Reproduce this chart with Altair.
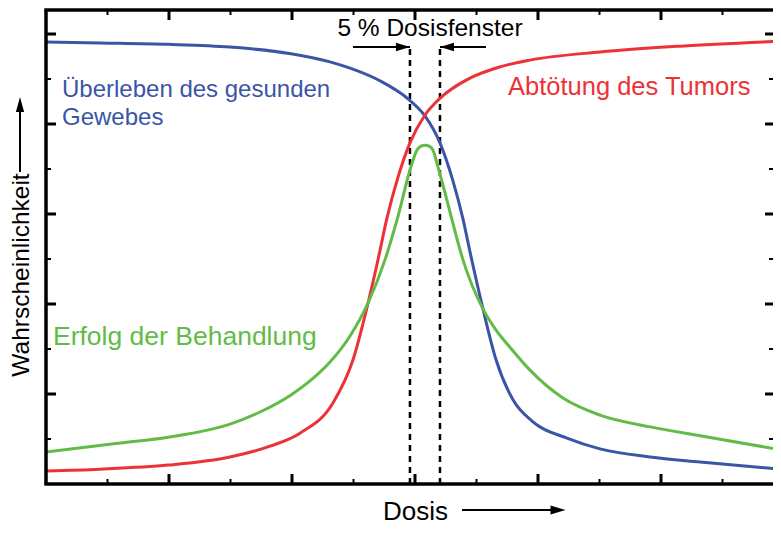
import altair as alt
import pandas as pd

# ---------------- data (dose in axis units, probability 0..1) ----------------
blue_dose = [0, 0.439, 0.992, 1.496, 1.992, 2.309, 2.472, 2.715, 2.943, 3.081, 3.203, 3.309, 3.390, 3.447, 3.545, 3.659, 3.797, 3.959, 4.236, 4.504, 4.911, 5.317, 5.976]
blue_prob = [0.982, 0.980, 0.977, 0.971, 0.956, 0.938, 0.924, 0.896, 0.856, 0.818, 0.758, 0.673, 0.589, 0.516, 0.398, 0.276, 0.187, 0.138, 0.102, 0.078, 0.060, 0.049, 0.033]

red_dose = [0, 0.439, 0.992, 1.496, 1.821, 2.065, 2.333, 2.496, 2.618, 2.699, 2.772, 2.862, 2.959, 3.081, 3.187, 3.447, 3.691, 3.935, 4.504, 5.154, 5.976]
red_prob = [0.029, 0.033, 0.042, 0.060, 0.084, 0.113, 0.180, 0.276, 0.402, 0.498, 0.591, 0.682, 0.758, 0.820, 0.853, 0.902, 0.927, 0.942, 0.960, 0.973, 0.984]

green_dose = [0, 0.602, 0.992, 1.496, 1.740, 1.992, 2.146, 2.309, 2.472, 2.618, 2.756, 2.854, 2.976, 3.016, 3.049, 3.081, 3.114, 3.146, 3.187, 3.244, 3.301, 3.390, 3.545, 3.659, 3.772, 3.935, 4.203, 4.504, 4.911, 5.317, 5.976]
green_prob = [0.071, 0.091, 0.104, 0.133, 0.160, 0.198, 0.229, 0.271, 0.329, 0.402, 0.498, 0.587, 0.713, 0.742, 0.751, 0.753, 0.751, 0.742, 0.704, 0.647, 0.587, 0.498, 0.393, 0.342, 0.304, 0.253, 0.191, 0.153, 0.127, 0.107, 0.076]

window_dose = [2.959, 3.203]
window_top = 0.971
arrow_left = [2.496, 2.959]
arrow_right = [3.203, 3.577]

x_major = [1, 2, 3, 4, 5]
x_minor = [0.5, 1.5, 2.5, 3.5, 4.5, 5.5]
y_major = [0.2, 0.4, 0.6, 0.8, 1.0]
y_minor = [0.1, 0.3, 0.5, 0.7, 0.9]

# ---------------- layout ----------------
W, H = 727, 474
FONT = "Liberation Sans"
BLUE, RED, GREEN = "#3a55a5", "#ec3237", "#62bb47"

xs = alt.Scale(domain=[0, W / 123], nice=False, zero=False)
ys = alt.Scale(domain=[0, H / 450], nice=False, zero=False)


def X(f="x"):
    return alt.X(f"{f}:Q", scale=xs, axis=None)


def Y(f="y"):
    return alt.Y(f"{f}:Q", scale=ys, axis=None)


def curve(d, p, color):
    df = pd.DataFrame({"x": d, "y": p})
    return alt.Chart(df).mark_line(color=color, strokeWidth=3, interpolate="monotone", clip=True).encode(x=X(), y=Y())


layers = []

# dashed dose window lines
dwin = pd.DataFrame({"x": window_dose, "y": [0, 0], "y2": [window_top, window_top]})
layers.append(alt.Chart(dwin).mark_rule(color="black", strokeWidth=2.5, strokeDash=[6, 5]).encode(
    x=X(), y=Y(), y2="y2:Q"))

layers.append(curve(blue_dose, blue_prob, BLUE))
layers.append(curve(red_dose, red_prob, RED))
layers.append(curve(green_dose, green_prob, GREEN))

# window arrows
for seg in (arrow_left, arrow_right):
    df = pd.DataFrame({"x": [seg[0]], "x2": [seg[1]], "y": [window_top]})
    layers.append(alt.Chart(df).mark_rule(color="black", strokeWidth=2).encode(x=X(), x2="x2:Q", y=Y()))
head_r = "M -1 -0.6 L 1 0 L -1 0.6 Z"
head_l = "M 1 -0.6 L -1 0 L 1 0.6 Z"
head_u = "M -0.55 1 L 0 -1 L 0.55 1 Z"
layers.append(alt.Chart(pd.DataFrame({"x": [arrow_left[1]], "y": [window_top]})).mark_point(
    shape=head_r, size=196, filled=True, color="black", opacity=1, xOffset=-7).encode(x=X(), y=Y()))
layers.append(alt.Chart(pd.DataFrame({"x": [arrow_right[0]], "y": [window_top]})).mark_point(
    shape=head_l, size=196, filled=True, color="black", opacity=1, xOffset=7).encode(x=X(), y=Y()))


# ticks (inward)
def hticks(vals, x0, x1, w):
    df = pd.DataFrame({"y": vals})
    return alt.Chart(df).mark_rule(color="black", strokeWidth=w).encode(
        y=Y(), x=alt.value(x0), x2=alt.value(x1))


def vticks(vals, y0, y1, w):
    df = pd.DataFrame({"x": vals})
    return alt.Chart(df).mark_rule(color="black", strokeWidth=w).encode(
        x=X(), y=alt.value(y0), y2=alt.value(y1))


layers += [
    hticks(y_major, 0, 10, 3), hticks(y_minor, 0, 5, 2),
    hticks(y_major, W, W - 8, 3), hticks(y_minor, W, W - 4, 2),
    vticks(x_major, H, H - 10, 3), vticks(x_minor, H, H - 5, 2),
    vticks(x_major, 0, 10, 3), vticks(x_minor, 0, 5, 2),
]

# frame (left, bottom, top)
frame = pd.DataFrame({"a": [0]})
layers.append(alt.Chart(frame).mark_rule(color="black", strokeWidth=3.5).encode(
    x=alt.value(0), y=alt.value(0), y2=alt.value(H)))
layers.append(alt.Chart(frame).mark_rule(color="black", strokeWidth=3.5).encode(
    x=alt.value(-1.7), x2=alt.value(W + 2), y=alt.value(H)))
layers.append(alt.Chart(frame).mark_rule(color="black", strokeWidth=3.5).encode(
    x=alt.value(-1.7), x2=alt.value(W + 2), y=alt.value(0)))


# text labels
def label(txt, x, y, color="black", align="left", angle=0, baseline="alphabetic", size=25):
    return alt.Chart(pd.DataFrame({"t": [txt]})).mark_text(
        font=FONT, fontSize=size, color=color, align=align, baseline=baseline, angle=angle
    ).encode(x=alt.value(x), y=alt.value(y), text="t:N")


layers += [
    label("Überleben des gesunden", 16, 87, BLUE, size=24),
    label("Gewebes", 16, 115, BLUE, size=24),
    label("Abtötung des Tumors", 462, 85, RED, size=25.5),
    label("Erfolg der Behandlung", 7, 335, GREEN, size=26.5),
    label("5 % Dosisfenster", 384, 26, align="center", size=24.5),
    label("Dosis", 337, 510, size=26),
    label("Wahrscheinlichkeit", -24, 265, align="center", angle=270, baseline="middle", size=24.5),
]

# axis-title arrows
layers.append(alt.Chart(frame).mark_rule(color="black", strokeWidth=2).encode(
    x=alt.value(416), x2=alt.value(506), y=alt.value(500)))
layers.append(alt.Chart(frame).mark_point(shape=head_r, size=225, filled=True, color="black", opacity=1).encode(
    x=alt.value(512), y=alt.value(500)))
layers.append(alt.Chart(frame).mark_rule(color="black", strokeWidth=2).encode(
    x=alt.value(-26), y=alt.value(100), y2=alt.value(162)))
layers.append(alt.Chart(frame).mark_point(shape=head_u, size=225, filled=True, color="black", opacity=1).encode(
    x=alt.value(-26), y=alt.value(94.5)))

chart = alt.layer(*layers).properties(
    width=W, height=H,
    autosize=alt.AutoSizeParams(type="none"),
    padding={"left": 38, "top": 2, "right": 0, "bottom": 43},
).configure_view(strokeWidth=0)

chart.save("out.html", embed_options={"renderer": "svg", "actions": False})
